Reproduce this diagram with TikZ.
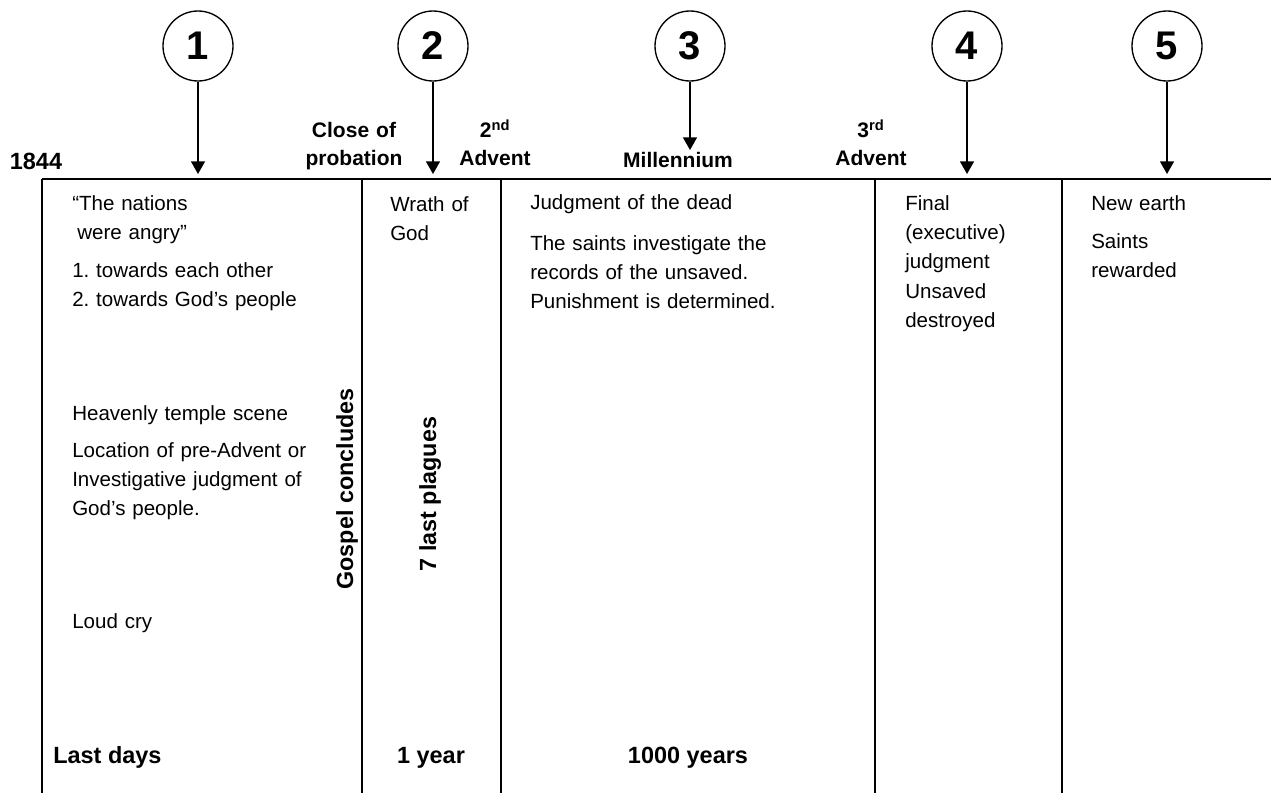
\documentclass[tikz,border=0pt]{standalone}
\usepackage{fontspec}
\setmainfont{Liberation Sans}
\usetikzlibrary{arrows.meta}
\frenchspacing

\begin{document}
\begin{tikzpicture}[x=0.75pt, y=-0.75pt,
    phase/.style={circle, draw, line width=1pt, minimum size=52.5pt, inner sep=0pt, font=\bfseries\fontsize{30}{30}\selectfont},
    pointer/.style={-{Triangle[length=9.5pt, width=10.5pt]}, line width=1pt},
    frameline/.style={line width=1.6pt},
    body/.style={anchor=base west, inner sep=0pt, text width=#1, align=left, font=\fontsize{15.4}{22}\selectfont},
    eventlabel/.style={anchor=base, inner sep=0pt, text width=#1, align=center, font=\bfseries\fontsize{15.75}{21}\selectfont},
    periodlabel/.style={inner sep=0pt, font=\bfseries\fontsize{17.6}{21}\selectfont},
    sidelabel/.style={rotate=90, anchor=base, inner sep=0pt, font=\bfseries\fontsize{17.5}{21}\selectfont}]
\useasboundingbox (0,0) rectangle (1271,793);

\draw[frameline] (42,179) -- (1271,179);
\draw[frameline] (42,179) -- (42,793);
\draw[frameline] (362,179) -- (362,793);
\draw[frameline] (501,179) -- (501,793);
\draw[frameline] (875,179) -- (875,793);
\draw[frameline] (1062,179) -- (1062,793);

\node[phase] (p1) at (198,46) {1};
\node[phase] (p2) at (433,46) {2};
\node[phase] (p3) at (690,46) {3};
\node[phase] (p4) at (967,46) {4};
\node[phase] (p5) at (1167,46) {5};

\coordinate (t1) at (198,174);
\coordinate (t2) at (433,174);
\coordinate (t3) at (690,150);
\coordinate (t4) at (967,174);
\coordinate (t5) at (1167,174);

\draw[pointer] (p1) -- (t1);
\draw[pointer] (p2) -- (t2);
\draw[pointer] (p3) -- (t3);
\draw[pointer] (p4) -- (t4);
\draw[pointer] (p5) -- (t5);

\node[periodlabel, anchor=base] (year1844) at (36,169) {1844};
\node[eventlabel=120pt] (closeprob) at (354,137) {Close of\\probation};
\node[eventlabel=80pt] (advent2) at (495,137) {2\textsuperscript{nd}\\Advent};
\node[eventlabel=120pt] (millen) at (678,167) {Millennium};
\node[eventlabel=80pt] (advent3) at (871,137) {3\textsuperscript{rd}\\Advent};

\node[body=215pt] (nations) at (72,210) {“The nations\\\hspace*{0.25em}were angry”};
\node[body=215pt] (towards) at (72,277) {1. towards each other\\2. towards God’s people};
\node[body=215pt] (temple) at (72,420) {Heavenly temple scene};
\node[body=215pt] (preadvent) at (72,457) {Location of pre-Advent or\\Investigative judgment of\\God’s people.};
\node[body=215pt] (loudcry) at (72,628) {Loud cry};

\node[body=80pt] (wrath) at (390,211) {Wrath of\\God};

\node[body=255pt] (deadjudg) at (530,209) {Judgment of the dead};
\node[body=255pt] (records) at (530,250) {The saints investigate the\\records of the unsaved.\\Punishment is determined.};

\node[body=115pt] (final) at (905,210) {Final\\(executive)\\judgment\\Unsaved\\destroyed};

\node[body=130pt] (newearth) at (1091,210) {New earth};
\node[body=130pt] (rewarded) at (1091,248) {Saints\\rewarded};

\node[sidelabel] (gospel) at (353,489) {Gospel concludes};
\node[sidelabel] (plagues) at (436,494) {7 last plagues};

\node[periodlabel, anchor=base west] (lastdays) at (53,763) {Last days};
\node[periodlabel, anchor=base] (oneyear) at (431,763) {1 year};
\node[periodlabel, anchor=base] (thousand) at (688,763) {1000 years};
\end{tikzpicture}
\end{document}
